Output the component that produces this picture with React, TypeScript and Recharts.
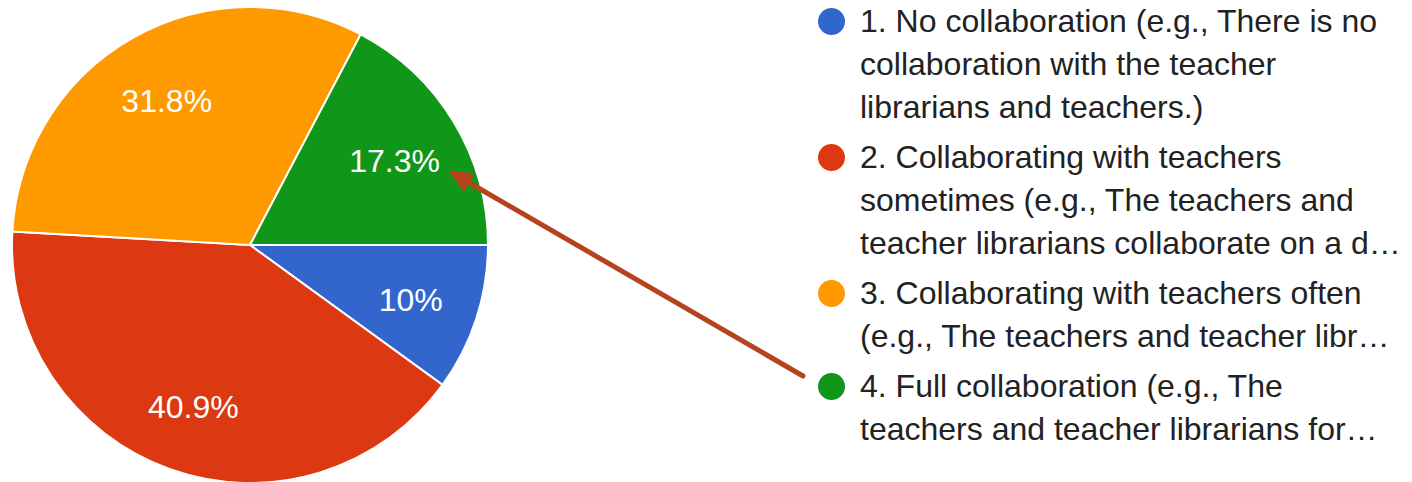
import React from "react";
import { Cell, Legend, Pie, PieChart } from "recharts";

const legendLines = [
  ["1. No collaboration (e.g., There is no", "collaboration with the teacher", "librarians and teachers.)"],
  ["2. Collaborating with teachers", "sometimes (e.g., The teachers and", "teacher librarians collaborate on a d…"],
  ["3. Collaborating with teachers often", "(e.g., The teachers and teacher libr…"],
  ["4. Full collaboration (e.g., The", "teachers and teacher librarians for…"],
];
const shares = [10, 40.9, 31.8, 17.3];
const colors = ["#3366cc", "#dc3912", "#ff9900", "#109618"];

const data = shares.map((v, i) => ({ name: legendLines[i].join(" "), value: v }));

const FONT = '"Liberation Sans", Arial, Helvetica, sans-serif';
const RAD = Math.PI / 180;

function renderLabel(props: any) {
  const { cx, cy, midAngle, outerRadius, index } = props;
  const r = outerRadius * 0.71;
  const x = cx + r * Math.cos(-midAngle * RAD);
  const y = cy + r * Math.sin(-midAngle * RAD) + 3;
  return (
    <text x={x} y={y} fill="#fff" textAnchor="middle" dominantBaseline="central" fontSize={32} fontFamily={FONT}>
      {`${shares[index]}%`}
    </text>
  );
}

function renderLegend() {
  return (
    <div style={{ fontFamily: FONT, fontSize: 32, color: "#222" }}>
      {legendLines.map((lines, i) => (
        <div key={i} style={{ display: "flex", alignItems: "flex-start", marginBottom: 7 }}>
          <div
            style={{
              width: 27,
              height: 27,
              borderRadius: "50%",
              background: colors[i],
              marginTop: 8,
              marginRight: 15,
              flex: "none",
            }}
          />
          <div style={{ lineHeight: "43px", whiteSpace: "nowrap" }}>
            {lines.map((l, j) => (
              <div key={j}>{l}</div>
            ))}
          </div>
        </div>
      ))}
    </div>
  );
}

// annotation arrow pointing at the green slice label
const arrowTail = [803, 376];
const arrowTip = [449, 171];

function Arrow() {
  const dx = arrowTail[0] - arrowTip[0];
  const dy = arrowTail[1] - arrowTip[1];
  const len = Math.hypot(dx, dy);
  const ux = dx / len;
  const uy = dy / len;
  const bx = arrowTip[0] + ux * 23;
  const by = arrowTip[1] + uy * 23;
  const p1 = `${bx - uy * 10},${by + ux * 10}`;
  const p2 = `${bx + uy * 10},${by - ux * 10}`;
  return (
    <svg width={1412} height={482} style={{ position: "absolute", left: 0, top: 0, pointerEvents: "none" }}>
      <line x1={arrowTail[0]} y1={arrowTail[1]} x2={bx} y2={by} stroke="#b5441e" strokeWidth={5} strokeLinecap="round" />
      <polygon points={`${arrowTip[0]},${arrowTip[1]} ${p1} ${p2}`} fill="#b5441e" stroke="#b5441e" strokeWidth={1} strokeLinejoin="round" />
    </svg>
  );
}

export default function App() {
  return (
    <div style={{ position: "fixed", left: 0, top: 0, width: 1412, height: 482, background: "#fff", overflow: "hidden" }}>
      <PieChart width={1412} height={482} margin={{ top: 0, right: 0, bottom: 0, left: 0 }}>
        <Pie
          data={data}
          dataKey="value"
          nameKey="name"
          cx={250}
          cy={245}
          outerRadius={238}
          startAngle={0}
          endAngle={-360}
          stroke="#fff"
          strokeWidth={2}
          label={renderLabel}
          labelLine={false}
          isAnimationActive={false}
        >
          {data.map((_, i) => (
            <Cell key={i} fill={colors[i]} />
          ))}
        </Pie>
        <Legend
          layout="vertical"
          align="right"
          verticalAlign="top"
          content={renderLegend}
          wrapperStyle={{ left: 818, top: 0, width: 594 }}
        />
      </PieChart>
      <Arrow />
    </div>
  );
}
